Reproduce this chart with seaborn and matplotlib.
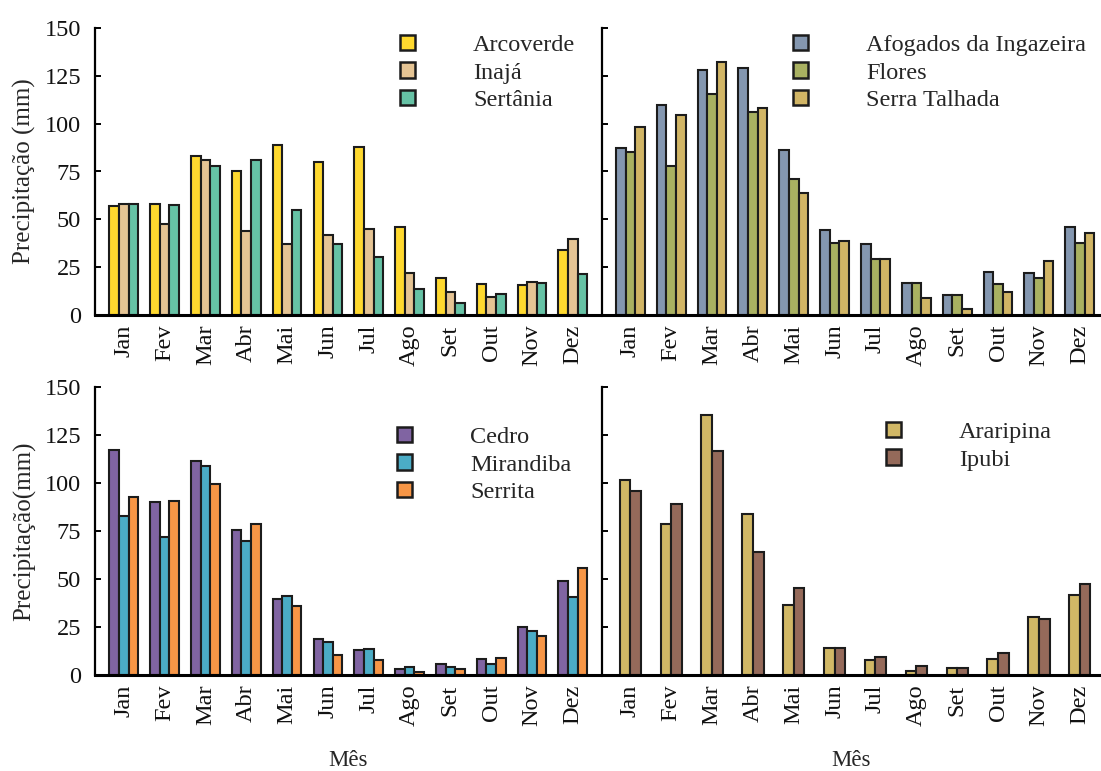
import numpy as np
import pandas as pd
import matplotlib
matplotlib.use("Agg")
import matplotlib.pyplot as plt
from matplotlib.patches import Patch
import seaborn as sns

# Monthly rainfall (mm) by station
months = ["Jan", "Fev", "Mar", "Abr", "Mai", "Jun", "Jul", "Ago", "Set", "Out", "Nov", "Dez"]

arcoverde = [57, 58, 83, 75, 89, 80, 88, 46, 19.5, 16, 15.8, 34]
inaja = [58, 47.6, 81, 44, 37, 42, 45, 22, 12, 9.5, 17.5, 39.6]
sertania = [58, 57.3, 78, 81, 55, 37, 30.3, 13.8, 6.3, 10.8, 16.6, 21.3]

afogados = [87.5, 109.5, 128.3, 129, 86, 44.5, 37, 16.8, 10.3, 22.3, 22, 46.2]
flores = [85, 78, 115.5, 106.2, 71.2, 37.4, 29.2, 16.8, 10.5, 16.4, 19.5, 37.5]
serra_talhada = [98.4, 104.5, 132, 108, 64, 38.7, 29.5, 9, 3.2, 12, 28.4, 42.8]

cedro = [117, 90, 111.7, 75.3, 39.6, 18.8, 12.8, 2.9, 5.6, 8.3, 24.9, 49.2]
mirandiba = [82.8, 71.8, 109, 69.9, 41, 17, 13.5, 4.1, 4.2, 5.8, 22.8, 40.7]
serrita = [92.6, 90.7, 99.6, 78.7, 36, 10.5, 7.8, 1.8, 3.2, 8.9, 20.2, 55.7]

araripina = [101.5, 78.6, 135.3, 83.8, 36.4, 14.3, 7.7, 2, 3.5, 8.3, 30, 41.6]
ipubi = [95.8, 89.2, 116.8, 64.3, 45.1, 14.3, 9.4, 4.6, 3.5, 11.4, 29.1, 47.5]

panels = [
    (["Arcoverde", "Inajá", "Sertânia"], [arcoverde, inaja, sertania],
     ["#FFD92F", "#E5C494", "#66C2A5"]),
    (["Afogados da Ingazeira", "Flores", "Serra Talhada"], [afogados, flores, serra_talhada],
     ["#8497B0", "#A9B161", "#D1B565"]),
    (["Cedro", "Mirandiba", "Serrita"], [cedro, mirandiba, serrita],
     ["#8064A2", "#4BACC6", "#F79646"]),
    (["Araripina", "Ipubi"], [araripina, ipubi],
     ["#D1B866", "#956A5A"]),
]

sns.set_theme(style="white")
plt.rcParams["font.family"] = ["Liberation Serif", "DejaVu Serif"]
plt.rcParams["axes.unicode_minus"] = False

W, H = 1101, 771
fig = plt.figure(figsize=(W / 100, H / 100), dpi=100)

def box(x0, x1, ytop, ybot):
    return [x0 / W, 1 - ybot / H, (x1 - x0) / W, (ybot - ytop) / H]

rects = [box(95, 601, 28, 315), box(601.5, 1101, 28, 315),
         box(95, 601, 387, 675), box(601.5, 1101, 387, 675)]
xlims = [(-0.705, 11.69), (-0.705, 11.52), (-0.705, 11.69), (-0.705, 11.52)]
legend_anchor = [(400, 35), (793, 35), (397, 427), (886, 422)]
edge = "#1C1C1C"
fs_tick = 17.5
fs_leg = 17.5
fs_lab = 18

for i, (names, series, colors) in enumerate(panels):
    ax = fig.add_axes(rects[i])
    df = pd.DataFrame({
        "Mês": np.tile(months, len(names)),
        "Estação": np.repeat(names, len(months)),
        "Precipitação": np.concatenate([np.asarray(s, float) for s in series]),
    })
    width = 0.705 if len(names) == 3 else 0.52
    sns.barplot(data=df, x="Mês", y="Precipitação", hue="Estação", order=months,
                hue_order=names, palette=colors, width=width, edgecolor=edge,
                linewidth=1.5, saturation=1, errorbar=None, legend=False, ax=ax)
    ax.set_xlim(*xlims[i])
    ax.set_ylim(0, 150)
    ax.set_yticks([0, 25, 50, 75, 100, 125, 150])
    for side in ("top", "right"):
        ax.spines[side].set_visible(False)
    ax.spines["left"].set_linewidth(1.6)
    ax.spines["left"].set_color("black")
    ax.spines["bottom"].set_linewidth(2.2)
    ax.spines["bottom"].set_color("black")
    ax.tick_params(axis="y", direction="in", length=4, width=1.4, color="black",
                   pad=10, labelsize=fs_tick, left=True)
    ax.tick_params(axis="x", length=0, pad=7, labelsize=fs_tick)
    ax.set_xticks(range(len(months)))
    ax.set_xticklabels(months, rotation=90, va="top", ha="center")
    if i % 2 == 1:
        ax.tick_params(axis="y", labelleft=False)
        ax.set_ylabel("")
    else:
        ax.set_ylabel("Precipitação (mm)" if i == 0 else "Precipitação(mm)",
                      fontsize=fs_lab, labelpad=6)
    if i >= 2:
        ax.set_xlabel("Mês", fontsize=16.5, va="baseline")
        ax.xaxis.set_label_coords(0.5, (675 - 766) / 288)
    else:
        ax.set_xlabel("")
    for t in ax.get_xticklabels() + ax.get_yticklabels():
        t.set_color("#111111")

    handles = [Patch(facecolor=c, edgecolor=edge, linewidth=1.8) for c in colors]
    lx, ly = legend_anchor[i]
    ax.legend(handles, names, loc="upper left", bbox_to_anchor=(lx / W, 1 - ly / H),
              bbox_transform=fig.transFigure, frameon=False, fontsize=fs_leg,
              handlelength=0.6, handleheight=0.6, handletextpad=2.4,
              labelspacing=0.25, borderpad=0, borderaxespad=0)

fig.savefig("out.png", dpi=100)
